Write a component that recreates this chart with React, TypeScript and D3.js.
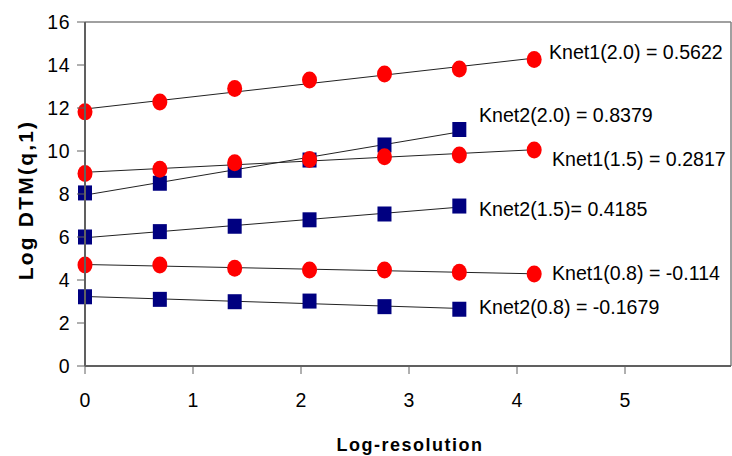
import React from 'react';
import * as d3 from 'd3';

// log of resolution steps (ln 1, 2, 4, ... 64)
const resolution = [0, 0.693, 1.386, 2.079, 2.773, 3.466, 4.159];

const knet1_20 = [11.82, 12.28, 12.91, 13.3, 13.58, 13.81, 14.26];
const knet2_20 = [8.05, 8.5, 9.1, 9.58, 10.28, 11.0];
const knet1_15 = [8.95, 9.15, 9.45, 9.6, 9.73, 9.81, 10.05];
const knet2_15 = [6.0, 6.25, 6.5, 6.8, 7.07, 7.44];
const knet1_08 = [4.7, 4.7, 4.55, 4.47, 4.47, 4.36, 4.28];
const knet2_08 = [3.22, 3.1, 2.99, 3.02, 2.76, 2.64];

const seriesLabels = [
  'Knet1(2.0) = 0.5622',
  'Knet2(2.0) = 0.8379',
  'Knet1(1.5) = 0.2817',
  'Knet2(1.5)= 0.4185',
  'Knet1(0.8) = -0.114',
  'Knet2(0.8) = -0.1679',
];

const xTicks = [0, 1, 2, 3, 4, 5];
const yTicks = [0, 2, 4, 6, 8, 10, 12, 14, 16];

const allSeries = [
  { values: knet1_20, kind: 'circle', label: seriesLabels[0], lx: 549, ly: 52 },
  { values: knet2_20, kind: 'square', label: seriesLabels[1], lx: 479, ly: 115 },
  { values: knet1_15, kind: 'circle', label: seriesLabels[2], lx: 552, ly: 159 },
  { values: knet2_15, kind: 'square', label: seriesLabels[3], lx: 479, ly: 209 },
  { values: knet1_08, kind: 'circle', label: seriesLabels[4], lx: 552, ly: 273 },
  { values: knet2_08, kind: 'square', label: seriesLabels[5], lx: 479, ly: 307 },
];

// least squares fit for the trend line
const fit = (xs: number[], ys: number[]) => {
  const mx = d3.mean(xs) as number;
  const my = d3.mean(ys) as number;
  const sxy = d3.sum(xs, (x, i) => (x - mx) * (ys[i] - my));
  const sxx = d3.sum(xs, (x) => (x - mx) * (x - mx));
  const b = sxy / sxx;
  return { a: my - b * mx, b };
};

const App = () => {
  const width = 732;
  const height = 456;
  const left = 85;
  const right = 731;
  const top = 22;
  const bottom = 366;
  const font = '"Liberation Sans", Arial, sans-serif';

  const x = d3.scaleLinear().domain([0, 6]).range([left, left + 108 * 6]);
  const y = d3.scaleLinear().domain([0, 16]).range([bottom, top]);

  return (
    <svg
      width={width}
      height={height}
      style={{ position: 'absolute', left: 0, top: 0, background: '#fff' }}
      fontFamily={font}
    >
      <line x1={left} x2={right} y1={top} y2={top} stroke="#808080" strokeWidth={1.5} />
      <line x1={right} x2={right} y1={top} y2={bottom} stroke="#808080" strokeWidth={1.5} />

      {allSeries.map((s, i) => {
        const xs = resolution.slice(0, s.values.length);
        const { a, b } = fit(xs, s.values);
        const x0 = xs[0];
        const x1 = xs[xs.length - 1];
        return (
          <g key={i}>
            <line
              x1={x(x0)}
              y1={y(a + b * x0)}
              x2={x(x1)}
              y2={y(a + b * x1)}
              stroke="#222"
              strokeWidth={1}
            />
            {s.values.map((v, j) =>
              s.kind === 'circle' ? (
                <ellipse key={j} cx={x(xs[j])} cy={y(v)} rx={7.5} ry={8.5} fill="#ff0000" />
              ) : (
                <rect key={j} x={x(xs[j]) - 7} y={y(v) - 7.5} width={14} height={15} fill="#000080" />
              ),
            )}
            <text x={s.lx} y={s.ly} dy="0.35em" fontSize={19.6} fill="#000">
              {s.label}
            </text>
          </g>
        );
      })}

      <line x1={left} x2={left} y1={top} y2={bottom} stroke="#606060" strokeWidth={2} />
      <line x1={left} x2={right} y1={bottom} y2={bottom} stroke="#606060" strokeWidth={2} />

      {yTicks.map((t) => (
        <g key={t}>
          <line x1={left - 8} x2={left} y1={y(t)} y2={y(t)} stroke="#606060" strokeWidth={1} />
          <text x={70} y={y(t)} dy="0.35em" textAnchor="end" fontSize={19.5} letterSpacing={0.5}>
            {t}
          </text>
        </g>
      ))}
      {xTicks.map((t) => (
        <g key={t}>
          <line x1={x(t)} x2={x(t)} y1={bottom} y2={bottom + 8} stroke="#606060" strokeWidth={1} />
          <text x={x(t)} y={400} dy="0.35em" textAnchor="middle" fontSize={19.5}>
            {t}
          </text>
        </g>
      ))}

      <text
        x={410}
        y={445}
        dy="0.35em"
        textAnchor="middle"
        fontSize={18}
        fontWeight="bold"
        letterSpacing={1.5}
      >
        Log-resolution
      </text>
      <text
        transform="translate(26,200) rotate(-90)"
        dy="0.35em"
        textAnchor="middle"
        fontSize={21}
        fontWeight="bold"
        letterSpacing={2.2}
      >
        Log DTM(q,1)
      </text>
    </svg>
  );
};

export default App;
